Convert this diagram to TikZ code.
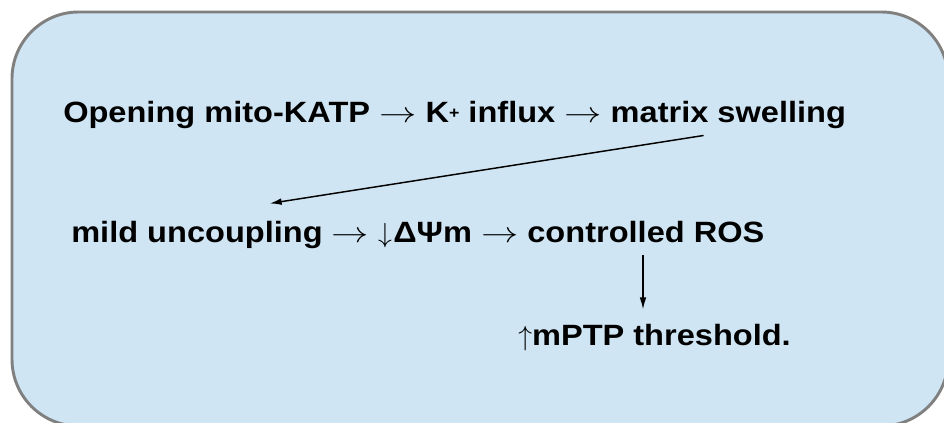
\documentclass[tikz,border=0pt]{standalone}
\usepackage{fontspec}
\setmainfont{Liberation Sans}[FakeStretch=1.11]
\usetikzlibrary{arrows.meta, positioning}
\definecolor{panelblue}{RGB}{207,229,243}
\definecolor{panelgrey}{RGB}{128,128,128}
\tikzstyle{panel} = [draw=panelgrey, fill=panelblue, line width=2.2pt,
    rounded corners=50pt]
\tikzstyle{stage} = [inner sep=0pt, anchor=base west,
    font=\fontsize{22}{26}\selectfont\bfseries]
\tikzstyle{link} = [->, line width=1.1pt]
\newcommand{\flowto}{\scalebox{1.35}[1.05]{$\rightarrow$}}
\newcommand{\ion}{{\fontsize{12}{12}\selectfont\raisebox{0.5ex}{+}}}

\begin{document}
\begin{tikzpicture}[x=0.75pt, y=-0.75pt, >={Latex[length=9pt,width=5pt]}]
    \useasboundingbox (0,0) rectangle (944,423);
    \begin{scope}
        \clip (0,0) rectangle (944,423);
        \draw [panel] (12,12) rectangle (948,426);
    \end{scope}
    \node [stage] (top) at (63,123) {Opening mito-KATP \flowto{} K\ion{} influx \flowto{} matrix swelling};
    \node [stage] (mid) at (71,243) {mild uncoupling \flowto{} $\downarrow$\kern1pt ΔΨm \flowto{} controlled ROS};
    \node [stage] (bot) at (518,345) {$\uparrow$mPTP threshold.};
    \coordinate (ros) at ([xshift=429pt, yshift=-4.5pt]mid.south west);
    \draw [link] ([xshift=-107pt, yshift=-4.5pt]top.south east) -- ([xshift=149pt, yshift=13.5pt]mid.north west);
    \draw [link, shorten >=10.5pt] (ros) -- (ros |- bot.north);
\end{tikzpicture}
\end{document}
